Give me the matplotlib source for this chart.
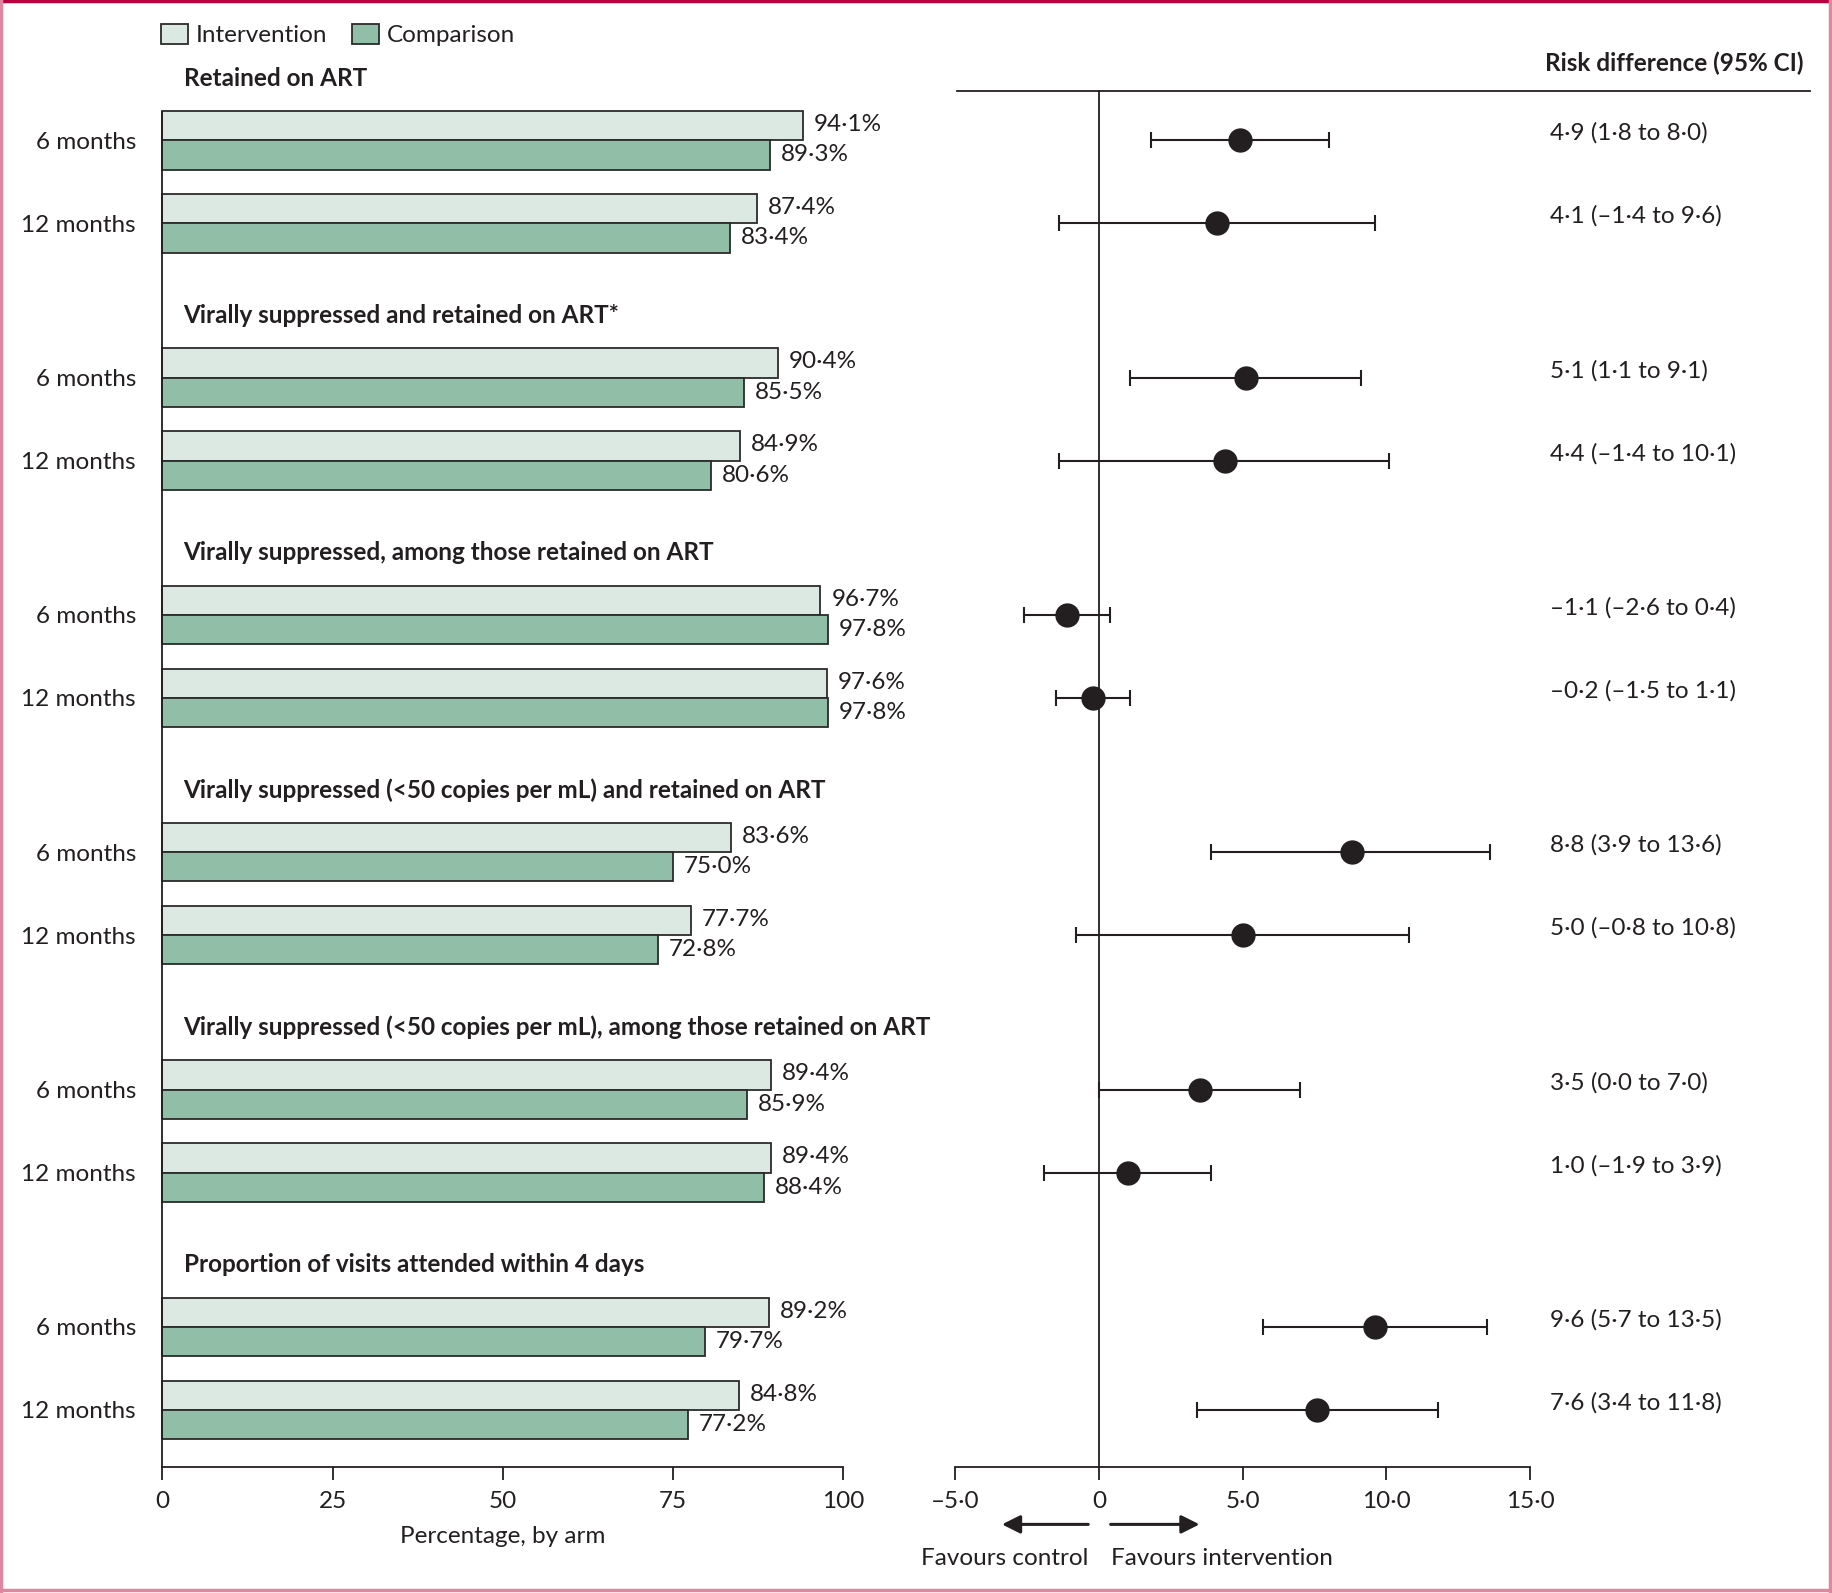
import matplotlib.pyplot as plt
from matplotlib.lines import Line2D
from matplotlib.patches import Patch

plt.rcParams['font.family'] = ['Lato', 'DejaVu Sans']

# data
groups = ['Retained on ART',
          'Virally suppressed and retained on ART*',
          'Virally suppressed, among those retained on ART',
          'Virally suppressed (<50 copies per mL) and retained on ART',
          'Virally suppressed (<50 copies per mL), among those retained on ART',
          'Proportion of visits attended within 4 days']
timepoints = ['6 months', '12 months']
intervention = [94.1, 87.4, 90.4, 84.9, 96.7, 97.6, 83.6, 77.7, 89.4, 89.4, 89.2, 84.8]
comparison = [89.3, 83.4, 85.5, 80.6, 97.8, 97.8, 75.0, 72.8, 85.9, 88.4, 79.7, 77.2]
rd = [4.9, 4.1, 5.1, 4.4, -1.1, -0.2, 8.8, 5.0, 3.5, 1.0, 9.6, 7.6]
rd_lo = [1.8, -1.4, 1.1, -1.4, -2.6, -1.5, 3.9, -0.8, 0.0, -1.9, 5.7, 3.4]
rd_hi = [8.0, 9.6, 9.1, 10.1, 0.4, 1.1, 13.6, 10.8, 7.0, 3.9, 13.5, 11.8]

c_int = '#dce9e2'
c_comp = '#90bea6'
ink = '#231f20'
fs = 17.5

def fmt(v, dec=1):
    s = f'{v:.{dec}f}'.replace('.', '\u00b7')
    return s.replace('-', '\u2013')

fig = plt.figure(figsize=(18.33, 15.93), dpi=100)
W, H = 1833, 1593
k = 1833 / 1568  # display -> full px

def ax_rect(x0, x1, y0, y1):
    return [x0 * k / W, 1 - y1 * k / H, (x1 - x0) * k / W, (y1 - y0) * k / H]

ytop, ybot = 96, 1255
axL = fig.add_axes(ax_rect(139, 721, ytop, ybot))
axR = fig.add_axes(ax_rect(817, 1309, ytop, ybot))
axL.patch.set_visible(False)
axR.patch.set_visible(False)

# row positions
rows = []
heads = []
for g in range(len(groups)):
    base = 120 + 203 * g
    heads.append(base - 53)
    rows += [base, base + 71]

bh = 25
axL.barh([r - bh / 2 for r in rows], intervention, height=bh, color=c_int,
         edgecolor='#2b2b2b', linewidth=1.3, clip_on=False)
axL.barh([r + bh / 2 for r in rows], comparison, height=bh, color=c_comp,
         edgecolor='#2b2b2b', linewidth=1.3, clip_on=False)
for r, a, b in zip(rows, intervention, comparison):
    axL.text(a + 1.6, r - bh / 2 - 1, fmt(a) + '%', va='center', ha='left', fontsize=fs, color=ink)
    axL.text(b + 1.6, r + bh / 2, fmt(b) + '%', va='center', ha='left', fontsize=fs, color=ink)
for h, name in zip(heads, groups):
    axL.text(3.1, h, name, va='center', ha='left', fontsize=fs, fontweight='bold', color=ink,
             clip_on=False)

axL.set_xlim(0, 100)
axL.set_ylim(ybot, ytop)
axL.set_xticks([0, 25, 50, 75, 100])
axL.set_xticklabels(['0', '25', '50', '75', '100'])
axL.set_yticks(rows)
axL.set_yticklabels(timepoints * len(groups))
axL.tick_params(axis='y', length=0, pad=19, labelsize=fs, labelcolor=ink)
axL.tick_params(axis='x', length=9, width=1.3, pad=8, labelsize=fs, labelcolor=ink, color=ink)
axL.set_xlabel('Percentage, by arm', fontsize=fs, color=ink, labelpad=10)
for s in ['top', 'right']:
    axL.spines[s].set_visible(False)
for s in ['left', 'bottom']:
    axL.spines[s].set_linewidth(1.3)
    axL.spines[s].set_color(ink)

# forest plot
axR.errorbar(rd, rows, xerr=[[m - l for m, l in zip(rd, rd_lo)], [h - m for m, h in zip(rd, rd_hi)]],
             fmt='o', color=ink, ms=16.5, elinewidth=1.5, capsize=6, capthick=1.5)
axR.plot([0, 0], [78, ybot], color=ink, lw=1.3, clip_on=False)
axR.plot([-4.92, 24.72], [78, 78], color=ink, lw=1.3, clip_on=False)
axR.text(24.5, 54, 'Risk difference (95% CI)', ha='right', va='center', fontsize=fs,
         fontweight='bold', color=ink, clip_on=False)
for r, m, l, h in zip(rows, rd, rd_lo, rd_hi):
    axR.text(15.69, r - 6, f'{fmt(m)} ({fmt(l)} to {fmt(h)})', ha='left', va='center',
             fontsize=fs, color=ink, clip_on=False)

axR.set_xlim(-5, 15)
axR.set_ylim(ybot, ytop)
axR.set_xticks([-5, 0, 5, 10, 15])
axR.set_xticklabels([fmt(v) if v != 0 else '0' for v in [-5, 0, 5, 10, 15]])
axR.set_yticks([])
axR.tick_params(axis='x', length=9, width=1.3, pad=8, labelsize=fs, labelcolor=ink, color=ink)
for s in ['top', 'right', 'left']:
    axR.spines[s].set_visible(False)
axR.spines['bottom'].set_linewidth(1.3)
axR.spines['bottom'].set_color(ink)

arrow_style = dict(arrowstyle='-|>,head_length=1.1,head_width=0.55', color=ink, lw=2.2,
                   shrinkA=0, shrinkB=0)
axR.annotate('', xy=(-3.37, 1304), xytext=(-0.37, 1304), annotation_clip=False,
             arrowprops=arrow_style)
axR.annotate('', xy=(3.5, 1304), xytext=(0.41, 1304), annotation_clip=False,
             arrowprops=arrow_style)
axR.text(-0.37, 1333, 'Favours control', ha='right', va='center', fontsize=fs, color=ink,
         clip_on=False)
axR.text(0.41, 1333, 'Favours intervention', ha='left', va='center', fontsize=fs, color=ink,
         clip_on=False)

# legend
handles = [Patch(facecolor=c_int, edgecolor='#2b2b2b', linewidth=1.3, label='Intervention'),
           Patch(facecolor=c_comp, edgecolor='#2b2b2b', linewidth=1.3, label='Comparison')]
fig.legend(handles=handles, loc='center left', bbox_to_anchor=(139 / W, 1 - 35 / H), ncol=2,
           frameon=False, fontsize=fs, handlelength=1.1, handleheight=0.9, handletextpad=0.35,
           columnspacing=1.0, labelcolor=ink)

# frame around the figure
fig.add_artist(Line2D([0, 1], [0.9995, 0.9995], transform=fig.transFigure, color='#b8003f', lw=2.5))
fig.add_artist(Line2D([0.0008, 0.0008], [0, 1], transform=fig.transFigure, color='#e0879f', lw=2.5))
fig.add_artist(Line2D([0.9985, 0.9985], [0, 1], transform=fig.transFigure, color='#e0879f', lw=2.5))
fig.add_artist(Line2D([0, 1], [0.0018, 0.0018], transform=fig.transFigure, color='#e0879f', lw=2.5))

fig.savefig('out.png', dpi=100)
